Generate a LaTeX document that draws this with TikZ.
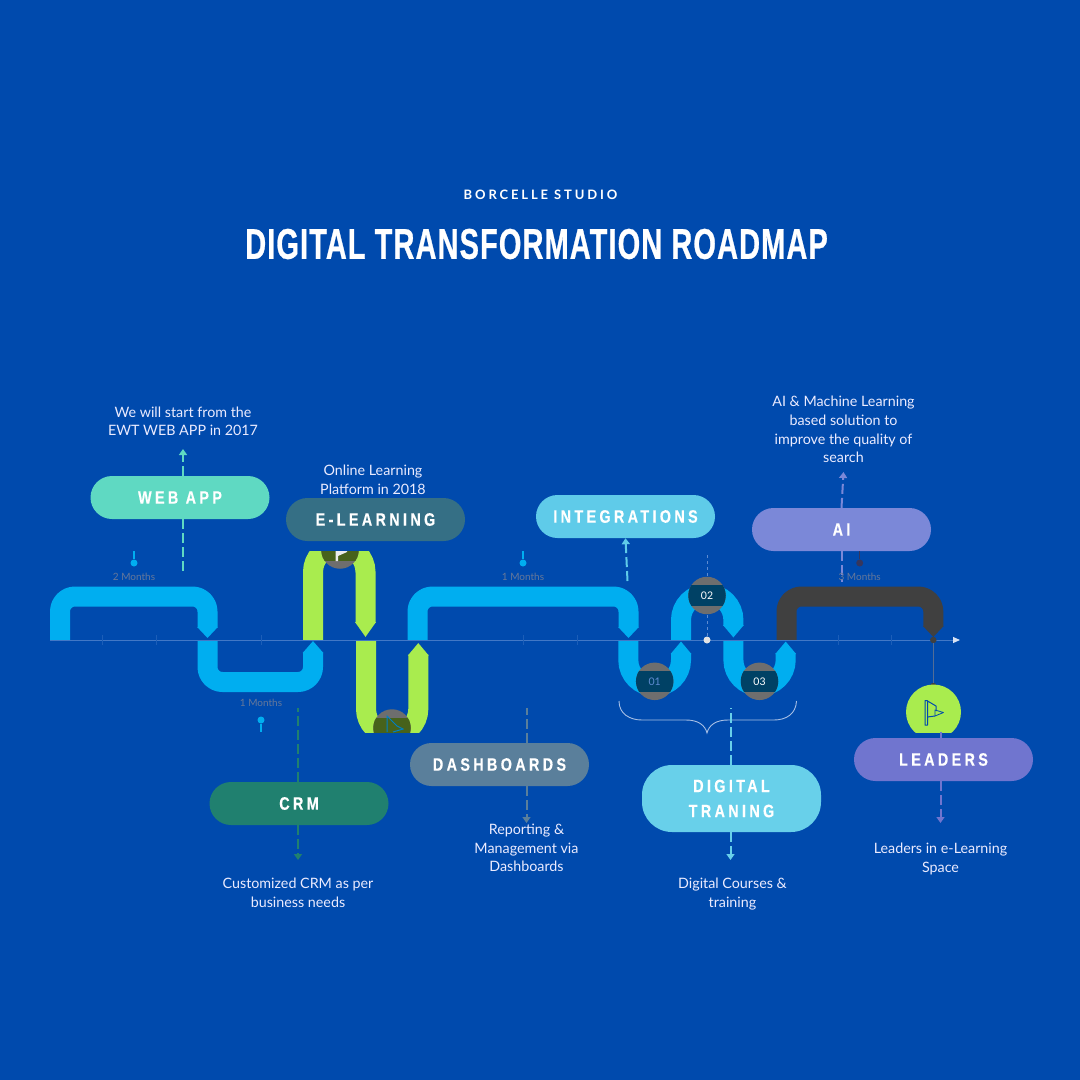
\documentclass[tikz,border=0pt]{standalone}
\usepackage{fontspec}
\usetikzlibrary{positioning}
\usetikzlibrary{arrows.meta}
\setmainfont{Lato}
\newfontfamily\titlefont[FakeStretch=0.675,LetterSpace=2.5,FakeBold=0.6]{Liberation Sans}
\newfontfamily\pillfont[FakeStretch=0.8,LetterSpace=18.5,FakeBold=0.3]{Liberation Sans}
\newfontfamily\headfont[LetterSpace=22]{Lato}
\definecolor{pagebg}{HTML}{004AAD}
\definecolor{ribbonblue}{HTML}{00AEF0}
\definecolor{ribbongreen}{HTML}{A9EC4E}
\definecolor{ribbondark}{HTML}{404040}
\definecolor{dotgray}{HTML}{6E6E6E}
\definecolor{dotteal}{HTML}{004165}
\definecolor{dotolive}{HTML}{47621B}
\definecolor{webcol}{HTML}{5FD9C2}
\definecolor{learncol}{HTML}{356F85}
\definecolor{integcol}{HTML}{5FCBE9}
\definecolor{aicol}{HTML}{7B88D8}
\definecolor{crmcol}{HTML}{20806F}
\definecolor{dashcol}{HTML}{5A7F9B}
\definecolor{digicol}{HTML}{68D0EA}
\definecolor{leadcol}{HTML}{7075CF}
\definecolor{axiscol}{HTML}{5E8BD0}
\definecolor{monthcol}{HTML}{66789A}
\tikzstyle{ribbon} = [line width=20pt, rounded corners=15pt, line join=round]
\tikzstyle{bluetip} = [-{Triangle[width=20pt,length=11pt]}]
\tikzstyle{looptip} = [line width=20pt, -{Triangle[width=20pt,length=12.5pt]}]
\tikzstyle{pill} = [fill=#1, text=white, minimum width=179pt, minimum height=43pt, rounded corners=21.5pt, inner sep=0pt, font=\pillfont\bfseries\fontsize{18}{25}\selectfont, align=center]
\tikzstyle{caption} = [text=white!92!blue, align=center, inner sep=0pt, font=\fontsize{14.3}{18.6}\selectfont]
\tikzstyle{monthlabel} = [text=monthcol, inner sep=0pt, font=\fontsize{10}{12}\selectfont]
\tikzstyle{flow} = [line width=2pt, dash pattern=on 10pt off 4pt]
\tikzstyle{flowhead} = [-{Triangle[width=8pt,length=6pt]}]
\tikzstyle{pin} = [circle, fill=#1, minimum size=7pt, inner sep=0pt]
\tikzstyle{stepdot} = [circle, fill=dotgray, minimum size=37.5pt, inner sep=0pt, text=white, font=\fontsize{10.5}{12}\selectfont, path picture={\fill[#1] ([shift={(-20pt,-10.5pt)}]path picture bounding box.center) rectangle ([shift={(20pt,10.5pt)}]path picture bounding box.center);}]

\begin{document}
\begin{tikzpicture}[x=1pt,y=-1pt]
    \fill[pagebg] (0,0) rectangle (1080,1080);
    \useasboundingbox (0,0) rectangle (1080,1080);

    % Heading
    \node[inner sep=0pt, text=white, font=\headfont\bfseries\fontsize{13}{16}\selectfont] (studio) at (540.5,195) {BORCELLE STUDIO};
    \node[inner sep=0pt, text=white, font=\titlefont\bfseries\fontsize{43}{50}\selectfont] (heading) at (536.5,244) {DIGITAL TRANSFORMATION ROADMAP};

    % Blue and dark ribbons
    \draw[ribbon, bluetip, ribbonblue] (60,640) -- (60,596.5) -- (207.5,596.5) -- (207.5,638);
    \draw[ribbon, -{Triangle[width=20pt,length=12pt]}, ribbonblue] (207.5,640) -- (207.5,682) -- (313,682) -- (313,641);
    \draw[ribbon, bluetip, ribbonblue] (417.5,640) -- (417.5,596.5) -- (628.5,596.5) -- (628.5,638);
    \draw[ribbon, bluetip, ribbondark] (786.5,640) -- (786.5,596.5) -- (933.3,596.5) -- (933.3,637);
    \draw[looptip, ribbonblue] (628.3,640) -- (628.3,660) arc[start angle=180, end angle=360, radius=26.35pt] -- (681,641.5);
    \draw[looptip, ribbonblue] (681,640) -- (681,620) arc[start angle=180, end angle=0, radius=26.2pt] -- (733.4,637.5);
    \draw[looptip, ribbonblue] (733.4,640) -- (733.4,660) arc[start angle=180, end angle=360, radius=26.15pt] -- (785.7,641.5);

    % Green arch, cut flat at the top
    \begin{scope}
        \clip (280,551) rectangle (400,645);
        \draw[line width=20pt, -{Triangle[width=20pt,length=15pt]}, ribbongreen] (313,640) -- (313,572) arc[start angle=180, end angle=0, radius=26.25pt] -- (365.5,637);
        \node[stepdot=dotolive] (stepa) at (340,550) {};
        \fill[white!85!gray] (335.5,551) -- (335.5,561) -- (338,561) -- (338,556) -- (347,552) -- (347,551) -- cycle;
    \end{scope}

    % Green trough, cut flat at the bottom
    \begin{scope}
        \clip (340,635) rectangle (440,732);
        \draw[looptip, ribbongreen] (366,640) -- (366,709) arc[start angle=180, end angle=360, radius=26.15pt] -- (418.3,643);
        \node[stepdot=dotolive] (stepb) at (392,728) {};
        \draw[pagebg!70!cyan, line width=1pt] (387,732) -- (387,716) -- (397,726) -- (403,729) -- (393,732);
    \end{scope}

    % Time line
    \coordinate (axisstart) at (50,640);
    \coordinate (axisend) at (960,640);
    \draw[axiscol!70!pagebg, line width=1pt, -{Triangle[width=6pt,length=7pt,color=white!75!axiscol]}] (axisstart) -- (axisend);
    \foreach \tickx in {102,156,261,523,577,838,891}
        \draw[axiscol!30!pagebg, line width=0.6pt] (\tickx,635) -- (\tickx,645);

    % Numbered steps
    \node[circle, fill=white!78!gray, minimum size=7pt, inner sep=0pt] (midpin) at (707,640) {};
    \coordinate (midtop) at (707,555);
    \draw[axiscol, line width=0.6pt, dashed] (midtop) -- (midpin);
    \node[stepdot=dotteal] (stepone) at (654.7,681.3) {\textcolor{axiscol}{01}};
    \node[stepdot=dotteal] (steptwo) at (707,595.5) {02};
    \node[stepdot=dotteal] (stepthree) at (759.5,681.3) {03};

    % Brace under the steps
    \draw[white!45!axiscol, line width=0.9pt] (619,701) .. controls (619,714) and (630,720) .. (642,720) -- (686,720) .. controls (698,720) and (705,725) .. (707,733) .. controls (709,725) and (716,720) .. (728,720) -- (774,720) .. controls (786,720) and (796,714) .. (796.5,701);

    % Pills
    \node[pill=webcol] (webapp) at (180,497.5) {WEB APP};
    \node[pill=learncol] (elearning) at (375.5,519.5) {E-LEARNING};
    \node[pill=integcol] (integrations) at (625.5,516.5) {INTEGRATIONS};
    \node[pill=aicol] (ai) at (841.5,529.5) {AI};
    \node[pill=crmcol] (crm) at (299,803.5) {CRM};
    \node[pill=dashcol] (dashboards) at (499.5,764.5) {DASHBOARDS};
    \node[pill=digicol, minimum height=67pt, rounded corners=30pt] (digital) at (731.5,798.5) {DIGITAL\\TRANING};
    \node[pill=leadcol] (leaders) at (943.5,759.5) {LEADERS};

    % Dashed arrows
    \coordinate (webtop) at (183,449);
    \coordinate (webfoot) at (183,575);
    \draw[flow, flowhead, webcol] (webapp.north -| webtop) -- (webtop);
    \draw[flow, webcol] (webapp.south -| webfoot) -- (webfoot);
    \coordinate (crmfoot) at (298,860);
    \coordinate (crmtop) at (298,708);
    \draw[flow, crmcol] (crm.north -| crmtop) -- (crmtop);
    \draw[flow, flowhead, crmcol] (crm.south -| crmfoot) -- (crmfoot);
    \coordinate (dashfoot) at (526.5,823);
    \coordinate (dashtop) at (526.5,708);
    \draw[flow, dashcol] (dashboards.north -| dashtop) -- (dashtop);
    \draw[flow, flowhead, dashcol] (dashboards.south -| dashfoot) -- (dashfoot);
    \coordinate (digifoot) at (730.5,860);
    \coordinate (digitop) at (730.5,708);
    \draw[flow, digicol] (digital.north -| digitop) -- (digitop);
    \draw[flow, flowhead, digicol] (digital.south -| digifoot) -- (digifoot);
    \coordinate (integfoot) at (627.5,581);
    \draw[flow, flowhead, integcol] (integfoot) -- (integrations.south);
    \coordinate (aitop) at (843.5,472);
    \coordinate (aifoot) at (841.5,582);
    \draw[flow, flowhead, aicol] (ai.north) -- (aitop);
    \draw[flow, aicol] (ai.south) -- (aifoot);

    % Leader flag
    \node[circle, fill=ribbondark, minimum size=6.5pt, inner sep=0pt] (leaddot) at (933.3,640) {};
    \node[circle, fill=ribbondark, minimum size=6.5pt, inner sep=0pt] (leadcap) at (933.3,686) {};
    \draw[axiscol!60!ribbondark, line width=1pt] (leaddot) -- (leadcap);
    \begin{scope}
        \clip (900,680) rectangle (970,732);
        \node[circle, fill=ribbongreen, minimum size=55pt, inner sep=0pt] (flagdisc) at (933.5,712) {};
    \end{scope}
    \draw[pagebg, line width=1pt, line join=round] (925,700.5) -- (925,725) -- (927.5,725) -- (927.5,700.5) -- cycle (927.5,701) -- (936,706) -- (936,711) (927.5,717) -- (935,716);
    \draw[pagebg, line width=0.8pt, line join=round] (935,710) -- (943.5,712.5) -- (935,716) -- cycle;
    \coordinate (leadfoot) at (940.5,823);
    \draw[flow, flowhead, leadcol] (leaders.south -| leadfoot) -- (leadfoot);
    \coordinate (leadtop) at (940.5,732);
    \draw[flow, leadcol] (leaders.north -| leadtop) -- (leadtop);

    % Month pins
    \node[pin=ribbonblue] (pina) at (134,563) {};
    \coordinate (pinatop) at (134,551);
    \draw[ribbonblue, line width=1.5pt] (pinatop) -- (pina);
    \node[monthlabel, below=6pt of pina] {2 Months};
    \node[pin=ribbonblue] (pinb) at (261,720) {};
    \coordinate (pinbfoot) at (261,732);
    \draw[ribbonblue, line width=1.5pt] (pinb) -- (pinbfoot);
    \node[monthlabel, above=10pt of pinb] {1 Months};
    \node[pin=ribbonblue] (pinc) at (523,563) {};
    \coordinate (pinctop) at (523,551);
    \draw[ribbonblue, line width=1.5pt] (pinctop) -- (pinc);
    \node[monthlabel, below=6pt of pinc] {1 Months};
    \node[pin=ribbondark!85!blue] (pind) at (859.7,563) {};
    \draw[ribbondark!85!blue, line width=1.5pt] (pind |- ai.south) -- (pind);
    \node[monthlabel, below=6pt of pind] {3 Months};

    % Captions
    \node[caption, above=13pt of webtop] (webtext) {We will start from the\\EWT WEB APP in 2017};
    \node[caption] (learntext) at (373,479.5) {Online Learning\\Platform in 2018};
    \node[caption, above=9pt of aitop] (aitext) {AI \& Machine Learning\\based solution to\\improve the quality of\\search};
    \node[caption, below=18pt of crmfoot] (crmtext) {Customized CRM as per\\business needs};
    \node[caption, below=1pt of dashfoot] (dashtext) {Reporting \&\\Management via\\Dashboards};
    \node[caption, below=18pt of digifoot, xshift=2pt] (digitext) {Digital Courses \&\\training};
    \node[caption, below=20pt of leadfoot] (leadtext) {Leaders in e-Learning\\Space};
\end{tikzpicture}
\end{document}
